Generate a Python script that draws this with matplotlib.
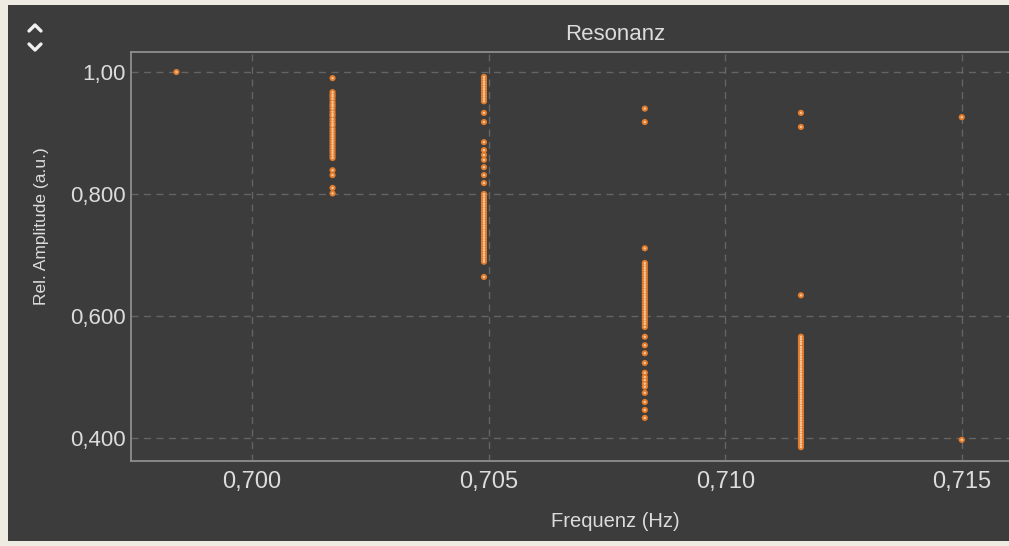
import matplotlib.pyplot as plt
from matplotlib.lines import Line2D
from matplotlib.patches import Rectangle
from matplotlib.ticker import FixedLocator, FixedFormatter

plt.rcParams['font.family'] = ['Liberation Sans', 'DejaVu Sans']

# resonance sweep: frequency steps and the relative amplitudes recorded at each
freq_steps = [0.6984, 0.7017, 0.7049, 0.7083, 0.7116, 0.7150]

amp_0698 = [1.000]
amp_0702 = [0.990, 0.967, 0.963, 0.960, 0.956, 0.951, 0.947, 0.944, 0.940,
            0.935, 0.931, 0.928, 0.923, 0.919, 0.915, 0.912, 0.907, 0.903,
            0.899, 0.895, 0.891, 0.887, 0.883, 0.879, 0.875, 0.871, 0.867,
            0.863, 0.859, 0.839, 0.831, 0.810, 0.801]
amp_0705 = [0.992, 0.988, 0.984, 0.980, 0.976, 0.972, 0.968, 0.964, 0.960,
            0.956, 0.952, 0.933, 0.918, 0.885, 0.872, 0.864, 0.856, 0.844,
            0.831, 0.818, 0.800, 0.796, 0.792, 0.788, 0.784, 0.780, 0.776,
            0.772, 0.768, 0.764, 0.760, 0.756, 0.752, 0.748, 0.744, 0.740,
            0.736, 0.732, 0.728, 0.724, 0.720, 0.716, 0.712, 0.708, 0.704,
            0.700, 0.696, 0.692, 0.689, 0.664]
amp_0708 = [0.940, 0.918, 0.711, 0.687, 0.683, 0.679, 0.675, 0.671, 0.667,
            0.663, 0.659, 0.655, 0.651, 0.647, 0.643, 0.639, 0.635, 0.631,
            0.627, 0.623, 0.619, 0.615, 0.611, 0.607, 0.603, 0.599, 0.595,
            0.591, 0.587, 0.582, 0.566, 0.552, 0.539, 0.523, 0.507, 0.500,
            0.495, 0.489, 0.484, 0.474, 0.459, 0.446, 0.433]
amp_0712 = [0.933, 0.910, 0.634, 0.566, 0.562, 0.558, 0.554, 0.549, 0.545,
            0.541, 0.537, 0.533, 0.529, 0.525, 0.521, 0.517, 0.513, 0.509,
            0.505, 0.501, 0.497, 0.493, 0.489, 0.485, 0.481, 0.477, 0.473,
            0.469, 0.465, 0.461, 0.457, 0.453, 0.449, 0.445, 0.441, 0.437,
            0.433, 0.429, 0.425, 0.421, 0.417, 0.413, 0.409, 0.405, 0.401,
            0.397, 0.393, 0.389, 0.385]
amp_0715 = [0.926, 0.397]

amplitudes = [amp_0698, amp_0702, amp_0705, amp_0708, amp_0712, amp_0715]

x_ticks = [0.700, 0.705, 0.710, 0.715]
x_labels = ['0,700', '0,705', '0,710', '0,715']
y_ticks = [1.0, 0.8, 0.6, 0.4]
y_labels = ['1,00', '0,800', '0,600', '0,400']

W, H = 1009, 546
bg = '#3c3c3c'
fg = '#dcdcdc'

fig = plt.figure(figsize=(W / 100, H / 100), dpi=100, facecolor='#eeebe3')
fig.patches.append(Rectangle((8 / W, 5 / H), (W - 8) / W, (H - 10) / H,
                             transform=fig.transFigure, facecolor=bg,
                             edgecolor='none', zorder=-5))

# plot area runs past the right edge of the panel
ax = fig.add_axes([131 / W, (H - 461) / H, (1099 - 131) / W, (461 - 52) / H])
ax.set_facecolor(bg)

for f, amps in zip(freq_steps, amplitudes):
    xs = [f] * len(amps)
    ax.scatter(xs, amps, s=20, color='#e47b28', edgecolors='none', zorder=3)
    ax.scatter(xs, amps, s=3, color='#f3c7a2', edgecolors='none', zorder=4)

ax.set_xlim(0.69744, 0.7179)
ax.set_ylim(0.3623, 1.0328)

ax.xaxis.set_major_locator(FixedLocator(x_ticks))
ax.xaxis.set_major_formatter(FixedFormatter(x_labels))
ax.yaxis.set_major_locator(FixedLocator(y_ticks))
ax.yaxis.set_major_formatter(FixedFormatter(y_labels))
ax.tick_params(length=0, colors=fg)
ax.tick_params(axis='x', pad=7, labelsize=17)
ax.tick_params(axis='y', pad=4, labelsize=16)

ax.grid(True, color='#646464', linestyle=(0, (5, 4)), linewidth=1)
ax.set_axisbelow(True)
for side in ['left', 'top', 'bottom', 'right']:
    ax.spines[side].set_color('#8e8e8e')
    ax.spines[side].set_linewidth(1.3)

ax.set_title('Resonanz', fontsize=16, color=fg, pad=9)
ax.set_xlabel('Frequenz (Hz)', fontsize=14.5, color=fg)
ax.set_ylabel('Rel. Amplitude (a.u.)', fontsize=12.5, color=fg)
ax.xaxis.set_label_coords(0.5, -0.125)
ax.yaxis.set_label_coords(-0.085, 0.575)

# up/down chevrons in the panel corner
for pts in [[(29, 31), (35, 25), (41, 31)],
            [(29, 44), (35, 50), (41, 44)]]:
    fig.add_artist(Line2D([p[0] / W for p in pts], [1 - p[1] / H for p in pts],
                          transform=fig.transFigure, color='#f0f0f0',
                          linewidth=2.4, solid_capstyle='round',
                          solid_joinstyle='round'))

fig.savefig('out.png', dpi=100, facecolor=fig.get_facecolor())
